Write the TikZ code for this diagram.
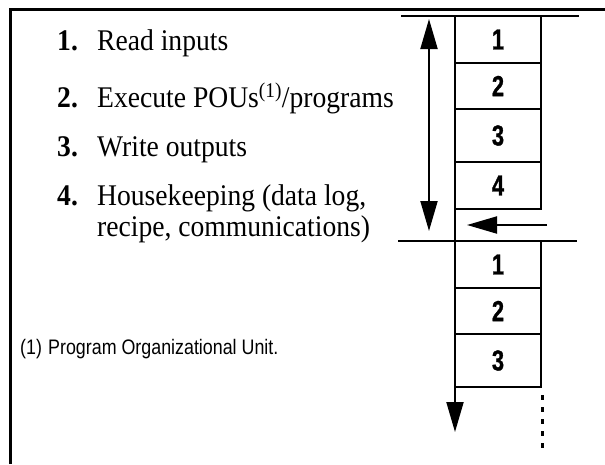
\documentclass[tikz,border=0pt]{standalone}
\usepackage{fontspec}
\setmainfont[FakeStretch=0.92]{Liberation Serif}
\newfontfamily\condsans[FakeStretch=0.85]{Liberation Sans}
\newfontfamily\condbold[FakeStretch=0.75,FakeBold=1]{Liberation Sans Bold}
\usetikzlibrary{arrows.meta,positioning}

\tikzset{
  slot/.style={draw,line width=2pt,outer sep=0pt,inner sep=0pt,minimum width=86pt,
    font=\condbold\fontsize{29}{29}\selectfont},
  item/.style={anchor=base west,inner sep=0pt,font=\fontsize{30}{36}\selectfont},
  note/.style={anchor=base west,inner sep=0pt,font=\condsans\fontsize{21}{21}\selectfont},
  rule/.style={line width=2.5pt},
  bigtip/.style={-{Triangle[length=30pt,width=17pt]}},
}

\begin{document}
\begin{tikzpicture}[x=1pt,y=-1pt]
  \useasboundingbox (0,0) rectangle (605,464);
  % frame
  \draw[line width=3pt] (10.5,464) -- (10.5,9) -- (605,9);

  % scan steps
  \node[item] (n1) at (57,50.5) {\textbf{1.}};
  \node[item] (t1) at (97,50.5) {Read inputs};
  \node[item] (n2) at (57,107) {\textbf{2.}};
  \node[item] (t2) at (97,107) {Execute POUs\textsuperscript{(1)}/programs};
  \node[item] (n3) at (57,156.5) {\textbf{3.}};
  \node[item] (t3) at (97,156.5) {Write outputs};
  \node[item] (n4) at (57,205) {\textbf{4.}};
  \node[item] (t4) at (97,205) {Housekeeping (data log,};
  \node[item] (t4b) at (97,236.5) {recipe, communications)};

  % footnote
  \node[note] (fnmark) at (20,354) {(1)};
  \node[note] (fntext) at (48,354) {Program Organizational Unit.};

  % first scan
  \node[slot,minimum height=47pt,anchor=north west] (a1) at (455,16) {1};
  \node[slot,minimum height=46pt,below=0pt of a1] (a2) {2};
  \node[slot,minimum height=53pt,below=0pt of a2] (a3) {3};
  \node[slot,minimum height=47pt,below=0pt of a3] (a4) {4};
  \draw[rule] (401,16) -- (579,16);

  % second scan
  \coordinate (split) at (455,241);
  \node[slot,minimum height=47pt,anchor=north west] (b1) at (split) {1};
  \node[slot,minimum height=46pt,below=0pt of b1] (b2) {2};
  \node[slot,minimum height=53pt,below=0pt of b2] (b3) {3};
  \draw[rule] (398,241) -- (577,241);

  % spine and arrows
  \coordinate (tail) at (455,432);
  \draw[line width=2pt] (a4.south west) -- (split);
  \draw[line width=2pt,bigtip] (b3.south west) -- (tail);
  \coordinate (cyctop) at (429,19);
  \coordinate (cycbot) at (429,231);
  \draw[line width=2pt,{Triangle[length=30pt,width=17pt]}-{Triangle[length=30pt,width=17pt]}] (cyctop) -- (cycbot);
  \coordinate (wrapfrom) at (547,225);
  \coordinate (wrapto) at (467,225);
  \draw[line width=2pt,bigtip] (wrapfrom) -- (wrapto);

  % more scans
  \draw[line width=3pt,dash pattern=on 5pt off 7pt] (542,395) -- (542,450);
\end{tikzpicture}
\end{document}
